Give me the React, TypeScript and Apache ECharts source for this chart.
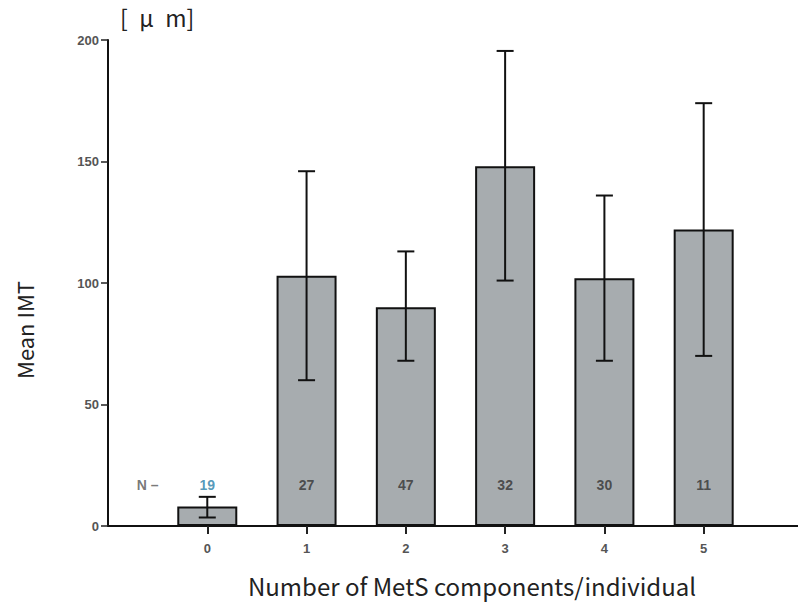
import React, { useEffect, useRef } from "react";
import * as echarts from "echarts";

const categories = [0, 1, 2, 3, 4, 5];
const meanIMT = [8, 103, 90, 148, 102, 122];
const errUpper = [12, 146, 113, 195.5, 136, 174];
const errLower = [3.5, 60, 68, 101, 68, 70];
const nCounts = ["19", "27", "47", "32", "30", "11"];
const yTicks = [0, 50, 100, 150, 200];

export default function App() {
  const ref = useRef<HTMLDivElement>(null);
  useEffect(() => {
    if (!ref.current) return;
    const chart = echarts.init(ref.current, null, { renderer: "svg" });
    const labelY = 17;
    const numFont = "'Liberation Sans', Arial, sans-serif";
    const titleFont = "'Noto Sans CJK JP', 'Noto Sans', sans-serif";
    chart.setOption({
      animation: false,
      backgroundColor: "#ffffff",
      grid: { left: 108, right: 0, top: 40, bottom: 81, containLabel: false },
      xAxis: {
        type: "value",
        min: -1,
        max: 5.95,
        axisLine: { show: true, onZero: false, lineStyle: { color: "#111", width: 2 } },
        axisTick: {
          show: true,
          customValues: categories,
          length: 8,
          inside: false,
          lineStyle: { color: "#222", width: 2 },
        },
        axisLabel: {
          customValues: categories,
          margin: 16,
          fontSize: 13,
          fontWeight: "bold",
          color: "#555",
          fontFamily: numFont,
        },
        splitLine: { show: false },
      },
      yAxis: {
        type: "value",
        min: 0,
        max: 200,
        interval: 50,
        axisLine: { show: true, onZero: false, lineStyle: { color: "#111", width: 2 } },
        axisTick: { show: true, length: 7, lineStyle: { color: "#222", width: 1.5 } },
        axisLabel: {
          margin: 9,
          fontSize: 13,
          fontWeight: "bold",
          color: "#555",
          fontFamily: numFont,
          customValues: yTicks,
        },
        splitLine: { show: false },
      },
      series: [
        {
          type: "bar",
          barWidth: 60,
          data: categories.map((c, i) => [c, meanIMT[i]]),
          itemStyle: { color: "#a7acaf", borderColor: "#111", borderWidth: 2 },
        },
        {
          type: "custom",
          data: categories.map((c, i) => [c, errLower[i], errUpper[i]]),
          renderItem: (params: any, api: any) => {
            const x = api.value(0);
            const lo = api.coord([x, api.value(1)]);
            const hi = api.coord([x, api.value(2)]);
            const hw = 8.5;
            const style = { stroke: "#111", lineWidth: 2 };
            return {
              type: "group",
              children: [
                { type: "line", shape: { x1: lo[0], y1: lo[1], x2: hi[0], y2: hi[1] }, style },
                { type: "line", shape: { x1: hi[0] - hw, y1: hi[1], x2: hi[0] + hw, y2: hi[1] }, style },
                { type: "line", shape: { x1: lo[0] - hw, y1: lo[1], x2: lo[0] + hw, y2: lo[1] }, style },
              ],
            };
          },
          z: 5,
        },
        {
          type: "scatter",
          symbolSize: 0,
          z: 6,
          data: [
            {
              value: [-0.6, labelY],
              label: { formatter: "N –", color: "#555" },
            },
            ...categories.map((c, i) => ({
              value: [c, labelY],
              label: {
                formatter: nCounts[i],
                color: i === 0 ? "#2a7ea8" : "#333",
              },
            })),
          ],
          label: {
            show: true,
            position: "inside",
            fontSize: 14,
            fontWeight: "bold",
            fontFamily: numFont,
          },
        },
      ],
      graphic: [
        {
          type: "text",
          left: 120,
          top: 5,
          style: {
            text: "[\u2002μ\u2002m]",
            fontSize: 23,
            fill: "#222",
            fontFamily: titleFont,
          },
        },
        {
          type: "text",
          x: 24,
          y: 330,
          rotation: Math.PI / 2,
          style: {
            text: "Mean IMT",
            fontSize: 22,
            fill: "#222",
            align: "center",
            verticalAlign: "middle",
            fontFamily: titleFont,
          },
        },
        {
          type: "text",
          x: 472,
          y: 585,
          style: {
            text: "Number of MetS components/individual",
            fontSize: 24,
            fill: "#222",
            align: "center",
            verticalAlign: "middle",
            fontFamily: titleFont,
          },
        },
      ],
    });
    return () => chart.dispose();
  }, []);
  return <div ref={ref} style={{ width: 798, height: 607, position: "absolute", left: 0, top: 0 }} />;
}
